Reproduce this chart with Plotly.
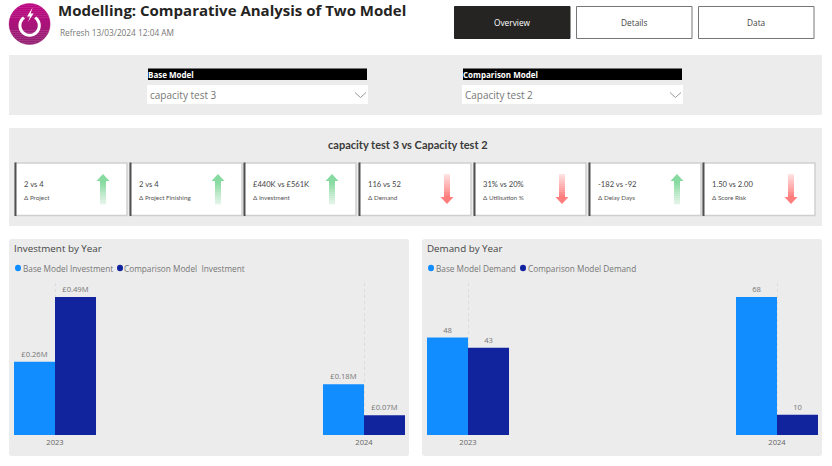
import math
import plotly.graph_objects as go

# ---- data ----
years = ["2023", "2024"]
inv_base = [0.26, 0.18]
inv_comp = [0.49, 0.07]
dem_base = [48, 68]
dem_comp = [43, 10]
inv_names = ["Base Model Investment", "Comparison Model  Investment"]
dem_names = ["Base Model Demand", "Comparison Model Demand"]
card_values = ["2 vs 4", "2 vs 4", "£440K vs £561K", "116 vs 52", "31% vs 20%", "-182 vs -92", "1.50 vs 2.00"]
card_labels = ["Δ Project", "Δ Project Finishing", "Δ Investment", "Δ Demand", "Δ Utilisation %", "Δ Delay Days", "Δ Score Risk"]
card_up = [True, True, True, False, False, True, False]
card_left = [15, 130, 244, 359, 474, 589, 703]

W, H = 832, 466
BLUE, NAVY = "#118DFF", "#12239E"
PANEL = "#ECECEC"
FONT = "Open Sans"
shapes, annos = [], []


def px(x):
    return x / W


def py(y):
    return 1 - y / H


def rect(x0, y0, x1, y1, fill, line=None, lw=0):
    shapes.append(dict(type="rect", xref="paper", yref="paper", x0=px(x0), x1=px(x1), y0=py(y0), y1=py(y1),
                       fillcolor=fill, line=dict(color=line or fill, width=lw), layer="below"))


def path(d_pts, fill=None, line=None, lw=0, close=True):
    d = "M" + " L".join(f"{px(a):.5f},{py(b):.5f}" for a, b in d_pts) + (" Z" if close else "")
    shapes.append(dict(type="path", xref="paper", yref="paper", path=d, fillcolor=fill,
                       line=dict(color=line or "rgba(0,0,0,0)", width=lw), layer="below"))


def text(x, y, s, size, color, anchor="left", family=FONT, bold=False):
    if anchor == "left":
        x -= 2
    annos.append(dict(xref="paper", yref="paper", x=px(x), y=py(y), text=f"<b>{s}</b>" if bold else s,
                      showarrow=False, xanchor=anchor, yanchor="middle", align=anchor,
                      font=dict(size=size, color=color, family=family)))


def mix(a, b, t):
    return "rgb(%d,%d,%d)" % tuple(round(a[i] + (b[i] - a[i]) * t) for i in range(3))


# ---- header ----
LOGO_TOP, LOGO_BOT = (190, 5, 130), (150, 35, 115)
cx, cy, r = 29.6, 24, 20.5
n = 20
for i in range(n):
    y0 = cy - r + 2 * r * i / n
    y1 = cy - r + 2 * r * (i + 1) / n
    pts = []
    steps = 6
    for k in range(steps + 1):
        yy = y0 + (y1 - y0) * k / steps
        pts.append((cx + max(r * r - (yy - cy) ** 2, 0) ** 0.5, yy))
    for k in range(steps, -1, -1):
        yy = y0 + (y1 - y0) * k / steps
        pts.append((cx - max(r * r - (yy - cy) ** 2, 0) ** 0.5, yy))
    path(pts, fill=mix(LOGO_TOP, LOGO_BOT, i / (n - 1)), line=mix(LOGO_TOP, LOGO_BOT, i / (n - 1)), lw=0.4)
ring = [(cx + 9.7 * math.sin(math.radians(a)), 25.5 - 9.7 * math.cos(math.radians(a))) for a in range(35, 330, 10)]
path(ring, line="white", lw=3, close=False)
path([(32.6, 7.5), (27, 16.5), (30, 16.5), (28, 22), (33.6, 13.5), (30.6, 13.5)], fill="white")

text(58, 10.5, "Modelling: Comparative Analysis of Two Model", 15, "#252423", bold=True)
text(60, 32, "Refresh 13/03/2024 12:04 AM", 8.3, "#777777")

rect(454.5, 6.5, 570, 38.5, "#252423", "#252423", 1)
rect(576.5, 6.5, 692, 38.5, "white", "#777777", 1)
rect(698.5, 6.5, 814, 38.5, "white", "#777777", 1)
text(512, 22.5, "Overview", 8.3, "white", "center")
text(634, 22.5, "Details", 8.3, "#444444", "center")
text(756, 22.5, "Data", 8.3, "#444444", "center")

# ---- filters ----
rect(9, 55, 822, 115, PANEL)
for x0, head, val in [(148, "Base Model", "capacity test 3"), (463, "Comparison Model", "Capacity test 2")]:
    rect(x0, 68.5, x0 + 219, 80, "black")
    rect(x0 - 1, 85, x0 + 220, 104, "white")
    text(x0, 74.5, head, 8, "white", bold=True)
    text(x0 + 2, 95.5, val, 10, "#777777")
    path([(x0 + 207, 92.5), (x0 + 212.5, 97.5), (x0 + 218, 92.5)], line="#999999", lw=1, close=False)

# ---- KPI cards ----
rect(9, 128, 822, 226, PANEL)
text(407.5, 145, "capacity test 3 vs Capacity test 2", 11, "#3A3A3A", "center", family="Lato", bold=True)
GREEN_TOP, GREEN_BOT = (135, 218, 160), (225, 243, 230)
RED_TOP, RED_BOT = (255, 225, 225), (255, 125, 125)
for x0, val, lab, up in zip(card_left, card_values, card_labels, card_up):
    rect(x0, 163, x0 + 112, 215.5, "white", "#CFCFCF", 1.5)
    rect(x0 - 0.5, 162.5, x0 + 1.5, 216, "#505050")
    text(x0 + 9, 184, val, 7.6, "#444444", family="Lato")
    text(x0 + 9, 198, lab, 6.3, "#555555", family="Lato")
    ax = x0 + 88
    n = 12
    if up:
        path([(ax, 174), (ax + 6.5, 181), (ax - 6.5, 181)], fill=mix(GREEN_TOP, GREEN_TOP, 0))
        for i in range(n):
            y0, y1 = 181 + 23 * i / n, 181 + 23 * (i + 1) / n
            rect(ax - 3, y0, ax + 3, y1 + 0.3, mix(GREEN_TOP, GREEN_BOT, i / (n - 1)))
    else:
        path([(ax, 204), (ax + 6.5, 197), (ax - 6.5, 197)], fill=mix(RED_BOT, RED_BOT, 0))
        for i in range(n):
            y0, y1 = 174 + 23 * i / n, 174 + 23 * (i + 1) / n
            rect(ax - 3, y0, ax + 3, y1 + 0.3, mix(RED_TOP, RED_BOT, i / (n - 1)))


# ---- chart panels ----
def round_panel(x0, y0, x1, y1, rad=3):
    d = (f"M{px(x0 + rad)},{py(y0)} L{px(x1 - rad)},{py(y0)} Q{px(x1)},{py(y0)} {px(x1)},{py(y0 + rad)} "
         f"L{px(x1)},{py(y1 - rad)} Q{px(x1)},{py(y1)} {px(x1 - rad)},{py(y1)} "
         f"L{px(x0 + rad)},{py(y1)} Q{px(x0)},{py(y1)} {px(x0)},{py(y1 - rad)} "
         f"L{px(x0)},{py(y0 + rad)} Q{px(x0)},{py(y0)} {px(x0 + rad)},{py(y0)} Z")
    shapes.append(dict(type="path", xref="paper", yref="paper", path=d, fillcolor=PANEL,
                       line=dict(width=0), layer="below"))


fig = go.Figure()
PLOT_TOP, PLOT_BOT = 283, 435
charts = [
    dict(ax="", x0=9, x1=409, left=14, title="Investment by Year", names=inv_names, series=(inv_base, inv_comp),
         ymax=0.5397, tmpl="£%{y:.2f}M", legend_x=(18, 23, 120, 124)),
    dict(ax="2", x0=422, x1=822, left=427, title="Demand by Year", names=dem_names, series=(dem_base, dem_comp),
         ymax=74.9, tmpl="%{y}", legend_x=(431, 436, 523, 528)),
]
for c in charts:
    round_panel(c["x0"], 239, c["x1"], 456)
    text(c["x0"] + 5, 248.5, c["title"], 9.8, "#444444")
    lx = c["legend_x"]
    for i, (col, nm) in enumerate(zip((BLUE, NAVY), c["names"])):
        cxx, tx = lx[2 * i], lx[2 * i + 1]
        shapes.append(dict(type="circle", xref="paper", yref="paper", x0=px(cxx - 3), x1=px(cxx + 3),
                           y0=py(268 + 3.2), y1=py(268 - 3.2), fillcolor=col, line=dict(width=0), layer="below"))
        text(tx, 268, nm, 8.25, "#777777")
    for vals, col, nm in zip(c["series"], (BLUE, NAVY), c["names"]):
        fig.add_trace(go.Bar(x=years, y=vals, name=nm, marker=dict(color=col, line=dict(width=0)),
                             texttemplate=c["tmpl"], textposition="outside", cliponaxis=False,
                             textfont=dict(size=7.6, color="#777777", family=FONT),
                             xaxis="x" + c["ax"], yaxis="y" + c["ax"], showlegend=False))

xbase = dict(type="category", range=[-0.1327, 1.1327], showline=False, zeroline=False, showgrid=True,
             griddash="dot", gridcolor="#DCDCDC", gridwidth=1, ticks="", ticklabelstandoff=1,
             tickfont=dict(size=7.6, color="#666666", family=FONT))
ybase = dict(showticklabels=False, showgrid=False, zeroline=False, showline=False, ticks="")
fig.update_layout(
    width=W, height=H, margin=dict(l=0, r=0, t=0, b=0), autosize=False,
    paper_bgcolor="white", plot_bgcolor="rgba(0,0,0,0)", barmode="group", bargap=0.7346, bargroupgap=0,
    shapes=shapes, annotations=annos, showlegend=False, uniformtext=dict(mode=False),
    font=dict(family=FONT),
    xaxis=dict(xbase, domain=[px(14), px(405)], anchor="y"),
    yaxis=dict(ybase, domain=[py(PLOT_BOT), py(PLOT_TOP)], range=[0, charts[0]["ymax"]], anchor="x"),
    xaxis2=dict(xbase, domain=[px(427), px(818)], anchor="y2"),
    yaxis2=dict(ybase, domain=[py(PLOT_BOT), py(PLOT_TOP)], range=[0, charts[1]["ymax"]], anchor="x2"),
)
fig.write_html("out.html", config=dict(displayModeBar=False),
               post_script="document.body.style.margin='0';document.documentElement.style.overflow='hidden';")
